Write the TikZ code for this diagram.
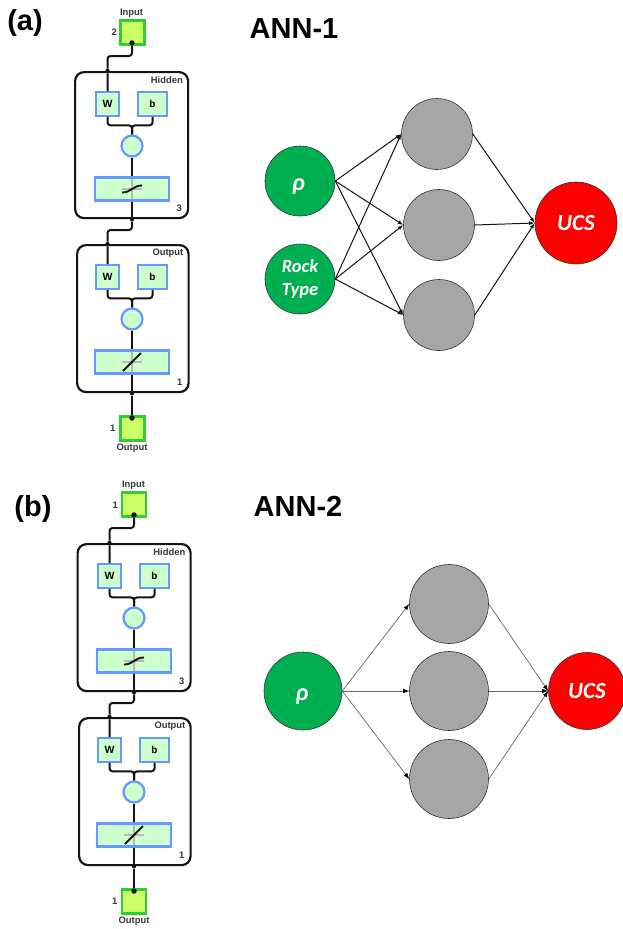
\documentclass[tikz,border=0pt]{standalone}
\usepackage{fontspec}
\setmainfont{Liberation Sans}
\newfontfamily\calib{Carlito}
\usetikzlibrary{arrows.meta}
\definecolor{blk}{RGB}{20,20,20}
\definecolor{pale}{RGB}{204,255,204}
\definecolor{lime}{RGB}{204,255,102}
\definecolor{limeb}{RGB}{51,204,51}
\definecolor{blu}{RGB}{102,153,255}
\definecolor{grn}{RGB}{0,176,80}
\definecolor{gry}{RGB}{166,166,166}
\tikzset{
 x=1pt,y=-1pt,
 panel/.style={draw=blk,line width=2.2pt,rounded corners=9pt,fill=white},
 bluebox/.style={draw=blu,line width=2.2pt,fill=pale},
 iobox/.style={draw=limeb,line width=2.2pt,fill=lime},
 wire/.style={draw=blk,line width=2pt,rounded corners=3pt},
 lab/.style={font=\fontsize{9.4}{10}\selectfont\bfseries,text=blk!85,inner sep=0pt},
 neuron/.style={circle,draw=black!80,line width=0.6pt,inner sep=0pt},
 nn/.style={draw=blk,line width=1pt,-{Latex[length=5.5pt,width=4pt]}},
 nnb/.style={draw=black!60,line width=0.7pt,-{Latex[length=6pt,width=4.5pt,black]}},
 big/.style={font=\fontsize{29}{32}\selectfont\bfseries,text=black,inner sep=0pt},
 inn/.style={font=\calib\fontsize{18.5}{19}\selectfont\bfseries\itshape,text=white,align=center,inner sep=0pt},
 ucs/.style={font=\calib\fontsize{23}{25}\selectfont\bfseries\itshape,text=white,inner sep=0pt},
 rho/.style={font=\calib\fontsize{24}{26}\selectfont\bfseries\itshape,text=white,inner sep=0pt},
 dot/.style={circle,fill=blk,inner sep=0pt,minimum size=5.5pt},
 smalldot/.style={circle,fill=blk,inner sep=0pt,minimum size=4.5pt}
}
% #1 prefix, #2 origin x, #3 top, #4 bottom, #5 right, #6 title, #7 number, #8 transfer glyph, #9 panel left
\newcommand{\netblock}[9]{%
 \node[panel,minimum width=#5pt-#9pt,minimum height=#4pt-#3pt,anchor=north west,inner sep=0pt] (#1box) at (#9,#3) {};
 \node[lab,anchor=north east] (#1title) at (#5-4,#3+5) {#6};
 \node[lab,anchor=south east] (#1num) at (#5-5,#4-5) {#7};
 \node[bluebox,minimum width=23.5pt,minimum height=23.5pt,inner sep=0pt,font=\fontsize{10.5}{11}\selectfont\bfseries] (#1w) at (#2+33.5,#3+33) {W};
 \node[bluebox,minimum width=29.5pt,minimum height=23.5pt,inner sep=0pt,font=\fontsize{10}{11}\selectfont\bfseries] (#1b) at (#2+78.5,#3+33) {b};
 \node[bluebox,circle,minimum size=21pt,inner sep=0pt] (#1c) at (#2+58,#3+75) {};
 \node[bluebox,minimum width=73.5pt,minimum height=23pt,inner sep=0pt] (#1t) at (#2+58,#3+118) {};
 \draw[wire] (#1w.south) -- ++(0,8.5) -| (#1c.north);
 \draw[wire] (#1b.south) -- ++(0,8.5) -| (#1c.north);
 \draw[wire] (#1c.south) -- (#1t.north);
 \draw[wire] (#1t.south) -- (#1box.south -| #1c);
 \draw[gray!55,line width=2pt] ([xshift=-10pt]#1t.center) -- ([xshift=10pt]#1t.center);
 \draw[gray!55,line width=2pt] ([yshift=-10pt]#1t.center) -- ([yshift=10pt]#1t.center);
 #8
}
\newcommand{\sigm}[1]{\draw[blk,line width=1.9pt] ([xshift=-10pt,yshift=-3.5pt]#1.center) .. controls ([xshift=-1pt,yshift=-3.5pt]#1.center) and ([xshift=1pt,yshift=3.5pt]#1.center) .. ([xshift=10pt,yshift=3.5pt]#1.center);}
\newcommand{\lin}[1]{\draw[blk,line width=1.9pt] ([xshift=-9pt,yshift=-9pt]#1.center) -- ([xshift=9pt,yshift=9pt]#1.center);}
\begin{document}
\begin{tikzpicture}
\useasboundingbox (0,0) rectangle (623,929);
% ---------- panel a
\node[big] (pa) at (25,23) {(a)};
\node[big] (ta) at (294,29) {ANN-1};
\netblock{ah}{74}{71}{217}{187}{Hidden}{3}{\sigm{aht}}{74}
\netblock{ao}{74}{244}{391}{187.5}{Output}{1}{\lin{aot}}{76}
\node[iobox,minimum size=24pt,inner sep=0pt] (ai) at (132.5,32.5) {};
\node[lab,anchor=south] (ail) at (131.5,17.5) {Input};
\node[lab,anchor=east] (ain) at (117,32) {2};
\node[iobox,minimum size=24pt,inner sep=0pt] (ae) at (132.5,428.5) {};
\node[lab,anchor=north] (ael) at (132,443.5) {Output};
\node[lab,anchor=east] (aen) at (115.5,428) {1};
\node[dot] (ad1) at (132,43) {};
\node[smalldot] (ad2) at (ahw.north |- ahbox.north) {};
\node[smalldot] (ad3) at (ahc |- ahbox.south) {};
\node[smalldot] (ad4) at (aow.north |- aobox.north) {};
\node[smalldot] (ad5) at (aoc |- aobox.south) {};
\node[dot] (ad6) at (132,418) {};
\draw[wire] (ad1) -- (132,56) -| (ad2) -- (ahw.north);
\draw[wire] (ad3) -- (132,230) -| (ad4) -- (aow.north);
\draw[wire,line width=2.8pt] (ad5) -- (ad6);
% ann-1
\node[neuron,fill=grn,minimum size=70pt] (r1) at (300,181) {};
\node[rho] (r1t) at (298.5,186) {ρ};
\node[neuron,fill=grn,minimum size=70pt,inn,draw=black!80] (rt) at (300,279) {Rock\\[4pt]Type};
\node[neuron,fill=gry,minimum size=71pt] (h1) at (437,134) {};
\node[neuron,fill=gry,minimum size=71pt] (h2) at (439,225) {};
\node[neuron,fill=gry,minimum size=71pt] (h3) at (439,315) {};
\node[neuron,fill=red,minimum size=82pt] (u1) at (576,223) {};
\node[ucs] (u1t) at (576,223) {UCS};
\foreach \s in {r1,rt}{\foreach \t in {h1,h2,h3}{\draw[nn] (\s.east) -- (\t.west);}}
\foreach \t in {h1,h2,h3}{\draw[nn] (\t.east) -- (u1.west);}
% ---------- panel b
\node[big] (pb) at (33,509) {(b)};
\node[big] (tb) at (298,506) {ANN-2};
\netblock{bh}{76}{543}{690}{189.5}{Hidden}{3}{\sigm{bht}}{76.5}
\netblock{bo}{76}{717}{864}{189.5}{Output}{1}{\lin{bot}}{78}
\node[iobox,minimum size=24pt,inner sep=0pt] (bi) at (134,504.5) {};
\node[lab,anchor=south] (bil) at (133.5,490) {Input};
\node[lab,anchor=east] (bin) at (118,505) {1};
\node[iobox,minimum size=24pt,inner sep=0pt] (be) at (134,901.5) {};
\node[lab,anchor=north] (bel) at (134,917) {Output};
\node[lab,anchor=east] (ben) at (117.5,901) {1};
\node[dot] (bd1) at (134,515) {};
\node[smalldot] (bd2) at (bhw.north |- bhbox.north) {};
\node[smalldot] (bd3) at (bhc |- bhbox.south) {};
\node[smalldot] (bd4) at (bow.north |- bobox.north) {};
\node[smalldot] (bd5) at (boc |- bobox.south) {};
\node[dot] (bd6) at (134,891) {};
\draw[wire] (bd1) -- (134,528) -| (bd2) -- (bhw.north);
\draw[wire] (bd3) -- (134,703) -| (bd4) -- (bow.north);
\draw[wire,line width=2.8pt] (bd5) -- (bd6);
% ann-2
\node[neuron,fill=grn,minimum size=78pt] (r2) at (303,691) {};
\node[rho] (r2t) at (302,696) {ρ};
\node[neuron,fill=gry,minimum size=79pt] (k1) at (449,604) {};
\node[neuron,fill=gry,minimum size=79pt] (k2) at (449,691) {};
\node[neuron,fill=gry,minimum size=79pt] (k3) at (449,779) {};
\node[neuron,fill=red,minimum size=77pt] (u2) at (587,691) {};
\node[ucs] (u2t) at (587,691) {UCS};
\foreach \t in {k1,k2,k3}{\draw[nnb] (r2.east) -- (\t.west);}
\foreach \t in {k1,k2,k3}{\draw[nnb] (\t.east) -- (u2.west);}
\end{tikzpicture}
\end{document}
